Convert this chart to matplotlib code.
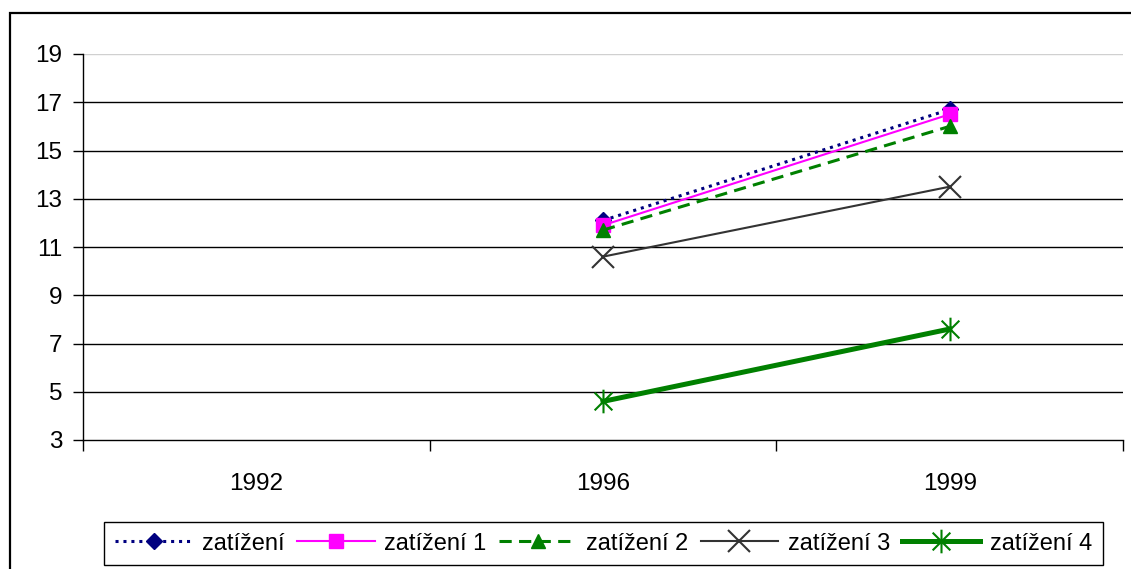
#!/usr/bin/env python3
"""Line chart of zatížení series for 1992, 1996 and 1999."""

import matplotlib

matplotlib.use("Agg")
import matplotlib.pyplot as plt
import numpy as np
from matplotlib.patches import Rectangle
from matplotlib.path import Path


years = ["1992", "1996", "1999"]
series_names = ["zatížení", "zatížení 1", "zatížení 2", "zatížení 3", "zatížení 4"]
zatizeni = [np.nan, 12.1, 16.7]
zatizeni_1 = [np.nan, 11.9, 16.5]
zatizeni_2 = [np.nan, 11.7, 16.0]
zatizeni_3 = [np.nan, 10.6, 13.5]
zatizeni_4 = [np.nan, 4.6, 7.6]
y_ticks = [3, 5, 7, 9, 11, 13, 15, 17, 19]


plt.rcParams.update(
    {
        "font.family": ["Liberation Sans", "DejaVu Sans"],
        "font.size": 17,
        "axes.linewidth": 1.0,
    }
)

# Excel-style asterisk: an x with a vertical stroke through it
asterisk = Path(
    [(0, -1), (0, 1), (-0.75, -0.75), (0.75, 0.75), (-0.75, 0.75), (0.75, -0.75)],
    [Path.MOVETO, Path.LINETO, Path.MOVETO, Path.LINETO, Path.MOVETO, Path.LINETO],
)

W, H = 1131, 569
fig = plt.figure(figsize=(W / 100, H / 100), dpi=100)
fig.patch.set_facecolor("white")

# outer chart frame (runs off the right and bottom edges)
fig.patches.append(
    Rectangle((10 / W, -0.1), 1.2, 1 - 12.5 / H + 0.1, transform=fig.transFigure,
              fill=False, edgecolor="black", linewidth=1.6, zorder=0)
)

ax = fig.add_axes([83 / W, 1 - 440 / H, (1123 - 83) / W, (440 - 54) / H])
x = np.arange(len(years))

styles = [
    dict(color="#000080", lw=2.2, dashes=(1.0, 1.6), marker="D", ms=8, mec="#000080"),
    dict(color="#ff00ff", lw=1.5, ls="-", marker="s", ms=10, mec="#ff00ff"),
    dict(color="#008000", lw=2.2, dashes=(4.0, 2.4), marker="^", ms=10, mec="#008000"),
    dict(color="#333333", lw=1.5, ls="-", marker="x", ms=16, mew=1.5),
    dict(color="#008000", lw=3.6, ls="-", marker=asterisk, ms=17, mew=1.5),
]
values = [zatizeni, zatizeni_1, zatizeni_2, zatizeni_3, zatizeni_4]

for name, vals, st in zip(series_names, values, styles):
    ax.plot(x, vals, label=name, **st)

ax.set_xlim(-0.5, len(years) - 0.5)
ax.set_ylim(3, 19)
ax.set_yticks(y_ticks)
ax.set_xticks(x, years)
ax.set_xticks(np.arange(len(years) + 1) - 0.5, minor=True)
ax.tick_params(axis="x", which="major", length=0, pad=24, labelsize=17.5)
ax.tick_params(axis="x", which="minor", length=8, direction="out", width=1.0)
ax.tick_params(axis="y", length=7, direction="out", pad=8, width=1.0, labelsize=17.5)

for yt in y_ticks[1:-1]:
    ax.axhline(yt, color="black", linewidth=1.0, zorder=0)
ax.axhline(19, color="#d0d0d0", linewidth=1.0, zorder=0)

for spine in ("top", "right"):
    ax.spines[spine].set_visible(False)

fig.legend(
    loc="upper left",
    bbox_to_anchor=(104 / W, 1 - 522 / H),
    ncol=5,
    numpoints=1,
    frameon=True,
    fancybox=False,
    edgecolor="black",
    framealpha=1,
    handlelength=3.3,
    handletextpad=0.4,
    columnspacing=0.52,
    borderpad=0.45,
    borderaxespad=0,
).get_frame().set_linewidth(1.0)

fig.savefig("out.png", dpi=100)
